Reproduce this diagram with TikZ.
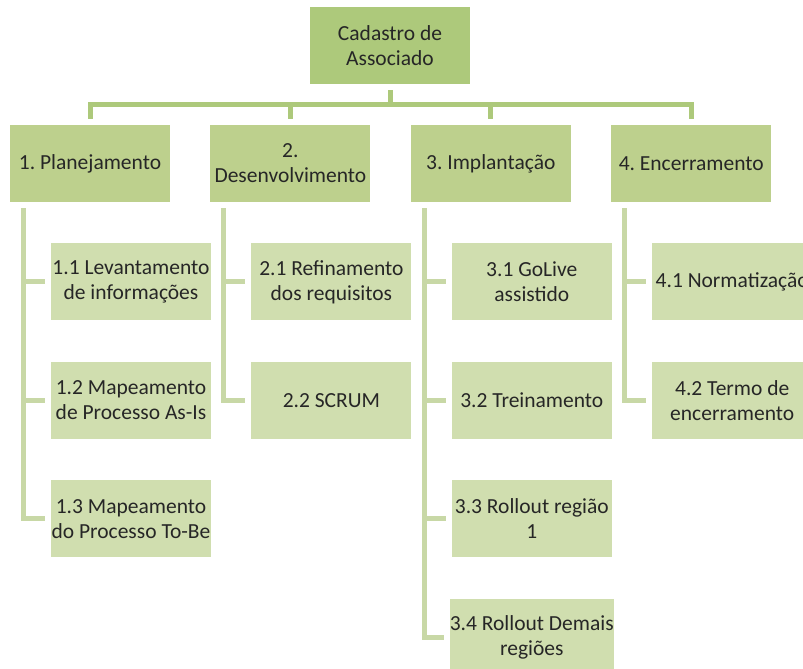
\documentclass[tikz,border=0pt]{standalone}
\usepackage{fontspec}
\setmainfont{Carlito}
\usetikzlibrary{positioning}
\definecolor{rootgreen}{HTML}{ADC97B}
\definecolor{phasegreen}{HTML}{BDD08D}
\definecolor{taskgreen}{HTML}{D0DEAF}
\definecolor{linkgreen}{HTML}{C8D8A6}
\definecolor{textgray}{HTML}{262626}

\begin{document}
\frenchspacing
\begin{tikzpicture}[x=1pt, y=1pt,
    node distance=41pt and 40pt,
    wbs/.style={minimum width=160pt, minimum height=77pt,
      inner sep=0pt, align=center, font=\fontsize{21.5}{25}\selectfont, text=textgray},
    rootbox/.style={wbs, fill=rootgreen},
    phasebox/.style={wbs, fill=phasegreen},
    taskbox/.style={wbs, fill=taskgreen},
    trunk/.style={draw=rootgreen, line width=5pt},
    branch/.style={draw=linkgreen, line width=5pt}
  ]
    \useasboundingbox (0,0) rectangle (803,-669);
    \clip (0,0) rectangle (803,-669);

    \node[rootbox] (root) at (390,-45.5) {Cadastro de\\Associado};

    \node[phasebox] (p1) at (90,-163.5) {1. Planejamento};
    \node[phasebox, right=of p1] (p2) {2.\\Desenvolvimento};
    \node[phasebox, right=of p2] (p3) {3. Implantação};
    \node[phasebox, right=of p3] (p4) {4. Encerramento};

    \node[taskbox, below right=41pt and 41pt of p1.south west] (t11) {1.1 Levantamento\\de informações};
    \node[taskbox, below=of t11] (t12) {1.2 Mapeamento\\de Processo As-Is};
    \node[taskbox, below=of t12] (t13) {1.3 Mapeamento\\do Processo To-Be};

    \node[taskbox, below right=41pt and 41pt of p2.south west] (t21) {2.1 Refinamento\\dos requisitos};
    \node[taskbox, below=of t21] (t22) {2.2 SCRUM};

    \node[taskbox, below right=41pt and 41pt of p3.south west] (t31) {3.1 GoLive\\assistido};
    \node[taskbox, below=of t31] (t32) {3.2 Treinamento};
    \node[taskbox, below=of t32] (t33) {3.3 Rollout região\\1};
    \node[taskbox, below=of t33] (t34) {3.4 Rollout Demais\\regiões};

    \node[taskbox, below right=41pt and 41pt of p4.south west] (t41) {4.1 Normatização};
    \node[taskbox, below=of t41] (t42) {4.2 Termo de\\encerramento};

    % root to phases
    \draw[trunk] ([yshift=-6pt]root.south) -- ++(0,-14.5);
    \draw[trunk] ([yshift=6pt]p1.north) -- ++(0,14.5) -| ([yshift=6pt]p4.north);
    \draw[trunk] ([yshift=6pt]p2.north) -- ++(0,14.5);
    \draw[trunk] ([yshift=6pt]p3.north) -- ++(0,14.5);

    % phases to tasks
    \coordinate (s1) at ([xshift=13.5pt,yshift=-6pt]p1.south west);
    \coordinate (s2) at ([xshift=13.5pt,yshift=-6pt]p2.south west);
    \coordinate (s3) at ([xshift=13.5pt,yshift=-6pt]p3.south west);
    \coordinate (s4) at ([xshift=13.5pt,yshift=-6pt]p4.south west);

    \draw[branch] (s1) |- ([xshift=-6pt]t13.west);
    \draw[branch] (s1 |- t11.west) -- ([xshift=-6pt]t11.west);
    \draw[branch] (s1 |- t12.west) -- ([xshift=-6pt]t12.west);

    \draw[branch] (s2) |- ([xshift=-6pt]t22.west);
    \draw[branch] (s2 |- t21.west) -- ([xshift=-6pt]t21.west);

    \draw[branch] (s3) |- ([xshift=-6pt]t34.west);
    \draw[branch] (s3 |- t31.west) -- ([xshift=-6pt]t31.west);
    \draw[branch] (s3 |- t32.west) -- ([xshift=-6pt]t32.west);
    \draw[branch] (s3 |- t33.west) -- ([xshift=-6pt]t33.west);

    \draw[branch] (s4) |- ([xshift=-6pt]t42.west);
    \draw[branch] (s4 |- t41.west) -- ([xshift=-6pt]t41.west);
  \end{tikzpicture}
\end{document}
